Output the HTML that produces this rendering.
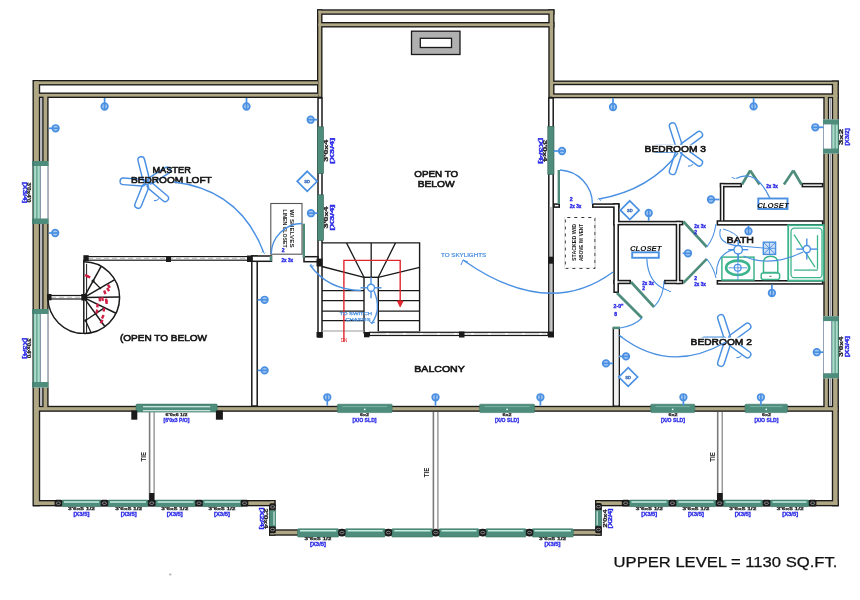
<!DOCTYPE html>
<html><head><meta charset="utf-8"><style>
html,body{margin:0;padding:0;background:#fff;}
svg{display:block;filter:blur(0.3px);}
text{font-family:"Liberation Sans",sans-serif;}
</style></head><body>
<svg width="860" height="600" viewBox="0 0 860 600">
<rect width="860" height="600" fill="#fff"/>
<rect x="317.00" y="9.30" width="237.50" height="5.50" fill="#1a1a1a"/>
<rect x="317.00" y="22.00" width="237.50" height="5.50" fill="#1a1a1a"/>
<rect x="317.00" y="9.30" width="5.50" height="88.70" fill="#1a1a1a"/>
<rect x="548.30" y="9.30" width="6.20" height="88.70" fill="#1a1a1a"/>
<rect x="33.00" y="80.00" width="286.30" height="5.50" fill="#1a1a1a"/>
<rect x="33.00" y="92.50" width="286.30" height="5.50" fill="#1a1a1a"/>
<rect x="32.50" y="80.00" width="7.70" height="426.30" fill="#1a1a1a"/>
<rect x="42.20" y="94.50" width="6.40" height="314.50" fill="#1a1a1a"/>
<rect x="551.00" y="80.50" width="287.70" height="4.70" fill="#1a1a1a"/>
<rect x="551.00" y="93.30" width="287.70" height="5.00" fill="#1a1a1a"/>
<rect x="831.80" y="80.50" width="7.10" height="425.80" fill="#1a1a1a"/>
<rect x="823.30" y="95.30" width="5.90" height="313.70" fill="#1a1a1a"/>
<rect x="33.00" y="405.80" width="805.70" height="6.00" fill="#1a1a1a"/>
<rect x="33.00" y="500.00" width="242.50" height="6.30" fill="#1a1a1a"/>
<rect x="269.00" y="500.00" width="6.50" height="35.70" fill="#1a1a1a"/>
<rect x="269.00" y="529.30" width="332.70" height="6.40" fill="#1a1a1a"/>
<rect x="595.20" y="500.00" width="6.50" height="35.70" fill="#1a1a1a"/>
<rect x="595.20" y="500.00" width="243.50" height="6.30" fill="#1a1a1a"/>
<rect x="318.35" y="10.65" width="234.80" height="2.80" fill="#b0a784"/>
<rect x="318.35" y="23.35" width="234.80" height="2.80" fill="#b0a784"/>
<rect x="318.35" y="10.65" width="2.80" height="86.00" fill="#b0a784"/>
<rect x="549.65" y="10.65" width="3.50" height="86.00" fill="#b0a784"/>
<rect x="34.35" y="81.35" width="283.60" height="2.80" fill="#b0a784"/>
<rect x="34.35" y="93.85" width="283.60" height="2.80" fill="#b0a784"/>
<rect x="33.85" y="81.35" width="5.00" height="423.60" fill="#b0a784"/>
<rect x="43.55" y="95.85" width="3.70" height="311.80" fill="#b0a784"/>
<rect x="552.35" y="81.85" width="285.00" height="2.00" fill="#b0a784"/>
<rect x="552.35" y="94.65" width="285.00" height="2.30" fill="#b0a784"/>
<rect x="833.15" y="81.85" width="4.40" height="423.10" fill="#b0a784"/>
<rect x="824.65" y="96.65" width="3.20" height="311.00" fill="#b0a784"/>
<rect x="34.35" y="407.15" width="803.00" height="3.30" fill="#b0a784"/>
<rect x="34.35" y="501.35" width="239.80" height="3.60" fill="#b0a784"/>
<rect x="270.35" y="501.35" width="3.80" height="33.00" fill="#b0a784"/>
<rect x="270.35" y="530.65" width="330.00" height="3.70" fill="#b0a784"/>
<rect x="596.55" y="501.35" width="3.80" height="33.00" fill="#b0a784"/>
<rect x="596.55" y="501.35" width="240.80" height="3.60" fill="#b0a784"/>
<line x1="41.10" y1="98.00" x2="41.10" y2="405.60" stroke="#9c9ca4" stroke-width="1.2" />
<line x1="830.50" y1="98.00" x2="830.50" y2="405.60" stroke="#9c9ca4" stroke-width="1.2" />
<rect x="169.00" y="573.60" width="2.50" height="1.80" fill="#bbb"/>
<rect x="411.50" y="31.20" width="48.50" height="23.30" fill="#b0b0b0" stroke="#1a1a1a" stroke-width="1.3"/>
<rect x="420.30" y="38.30" width="31.20" height="9.20" fill="#fff" stroke="#1a1a1a" stroke-width="1.3"/>
<rect x="318.00" y="98.00" width="4.00" height="239.00" fill="#fff" stroke="#1a1a1a" stroke-width="1.5"/>
<rect x="548.80" y="98.00" width="4.40" height="238.00" fill="#fff" stroke="#1a1a1a" stroke-width="1.5"/>
<rect x="549.90" y="207.00" width="2.20" height="126.00" fill="#c8c8c8"/>
<line x1="549.90" y1="207.00" x2="549.90" y2="333.00" stroke="#888" stroke-width="0.6" />
<rect x="86.00" y="256.60" width="164.00" height="3.60" fill="#fff" stroke="#1a1a1a" stroke-width="1.2"/>
<line x1="88.00" y1="258.40" x2="248.00" y2="258.40" stroke="#aaa" stroke-width="0.8" stroke-dasharray="5 3"/>
<rect x="251.80" y="256.00" width="5.40" height="150.00" fill="#fff" stroke="#1a1a1a" stroke-width="1.5"/>
<rect x="252.00" y="256.00" width="19.50" height="5.30" fill="#fff" stroke="#1a1a1a" stroke-width="1.5"/>
<rect x="304.00" y="256.70" width="14.00" height="5.00" fill="#fff" stroke="#1a1a1a" stroke-width="1.5"/>
<rect x="48.80" y="295.50" width="34.20" height="3.50" fill="#fff" stroke="#1a1a1a" stroke-width="1.2"/>
<line x1="51.00" y1="297.25" x2="81.00" y2="297.25" stroke="#aaa" stroke-width="0.8" stroke-dasharray="5 3"/>
<rect x="317.50" y="126.80" width="6.00" height="46.80" fill="#4e8c7c" stroke="#2e5e52" stroke-width="0.6"/>
<rect x="317.50" y="194.80" width="6.00" height="45.70" fill="#4e8c7c" stroke="#2e5e52" stroke-width="0.6"/>
<rect x="547.80" y="126.30" width="6.20" height="48.20" fill="#4e8c7c" stroke="#2e5e52" stroke-width="0.6"/>
<rect x="33.00" y="161.00" width="15.50" height="63.00" fill="#fff"/>
<rect x="33.60" y="165.50" width="6.70" height="54.00" fill="#a9dcc8" stroke="#4e8c7c" stroke-width="1.0"/>
<line x1="36.90" y1="165.50" x2="36.90" y2="219.50" stroke="#4e8c7c" stroke-width="1.0" />
<rect x="40.50" y="165.50" width="7.30" height="54.00" fill="#fff" stroke="#7a8aa0" stroke-width="0.8"/>
<rect x="32.00" y="161.00" width="16.50" height="5.00" fill="#4e8c7c"/>
<rect x="32.00" y="218.50" width="16.50" height="5.50" fill="#4e8c7c"/>
<line x1="33.30" y1="161.00" x2="33.30" y2="224.00" stroke="#3d6f62" stroke-width="0.8" />
<rect x="33.00" y="309.00" width="15.50" height="78.50" fill="#fff"/>
<rect x="33.60" y="313.50" width="6.70" height="69.50" fill="#a9dcc8" stroke="#4e8c7c" stroke-width="1.0"/>
<line x1="36.90" y1="313.50" x2="36.90" y2="383.00" stroke="#4e8c7c" stroke-width="1.0" />
<rect x="40.50" y="313.50" width="7.30" height="69.50" fill="#fff" stroke="#7a8aa0" stroke-width="0.8"/>
<rect x="32.00" y="309.00" width="16.50" height="5.00" fill="#4e8c7c"/>
<rect x="32.00" y="382.00" width="16.50" height="5.50" fill="#4e8c7c"/>
<line x1="33.30" y1="309.00" x2="33.30" y2="387.50" stroke="#3d6f62" stroke-width="0.8" />
<rect x="823.00" y="119.40" width="15.70" height="34.20" fill="#fff"/>
<rect x="831.80" y="123.90" width="6.60" height="25.20" fill="#a9dcc8" stroke="#4e8c7c" stroke-width="1.0"/>
<line x1="835.10" y1="123.90" x2="835.10" y2="149.10" stroke="#4e8c7c" stroke-width="1.0" />
<rect x="823.50" y="123.90" width="8.00" height="25.20" fill="#fff" stroke="#7a8aa0" stroke-width="0.8"/>
<rect x="823.00" y="119.40" width="15.70" height="4.80" fill="#4e8c7c"/>
<rect x="823.00" y="148.80" width="15.70" height="4.80" fill="#4e8c7c"/>
<line x1="838.40" y1="119.40" x2="838.40" y2="153.60" stroke="#3d6f62" stroke-width="0.8" />
<rect x="823.00" y="316.20" width="15.70" height="62.10" fill="#fff"/>
<rect x="831.80" y="320.70" width="6.60" height="53.10" fill="#a9dcc8" stroke="#4e8c7c" stroke-width="1.0"/>
<line x1="835.10" y1="320.70" x2="835.10" y2="373.80" stroke="#4e8c7c" stroke-width="1.0" />
<rect x="823.50" y="320.70" width="8.00" height="53.10" fill="#fff" stroke="#7a8aa0" stroke-width="0.8"/>
<rect x="823.00" y="316.20" width="15.70" height="4.80" fill="#4e8c7c"/>
<rect x="823.00" y="373.50" width="15.70" height="4.80" fill="#4e8c7c"/>
<line x1="838.40" y1="316.20" x2="838.40" y2="378.30" stroke="#3d6f62" stroke-width="0.8" />
<rect x="136.00" y="404.10" width="81.20" height="8.00" rx="1" fill="#4e8c7c" stroke="#3c7566" stroke-width="0.6"/>
<line x1="143.00" y1="406.70" x2="210.20" y2="406.70" stroke="#f0fffa" stroke-width="1.1" />
<line x1="143.00" y1="410.80" x2="210.20" y2="410.80" stroke="#f0fffa" stroke-width="1.1" />
<rect x="337.30" y="404.20" width="54.90" height="8.40" rx="1" fill="#4e8c7c" stroke="#3c7566" stroke-width="0.6"/>
<line x1="342.30" y1="406.60" x2="387.20" y2="406.60" stroke="#8fc4b4" stroke-width="0.7" />
<circle cx="364.75" cy="409.30" r="0.9" fill="#e8fff8"/>
<rect x="479.60" y="404.20" width="55.00" height="8.40" rx="1" fill="#4e8c7c" stroke="#3c7566" stroke-width="0.6"/>
<line x1="484.60" y1="406.60" x2="529.60" y2="406.60" stroke="#8fc4b4" stroke-width="0.7" />
<circle cx="507.10" cy="409.30" r="0.9" fill="#e8fff8"/>
<rect x="650.70" y="404.20" width="44.10" height="8.40" rx="1" fill="#4e8c7c" stroke="#3c7566" stroke-width="0.6"/>
<line x1="655.70" y1="406.60" x2="689.80" y2="406.60" stroke="#8fc4b4" stroke-width="0.7" />
<circle cx="672.75" cy="409.30" r="0.9" fill="#e8fff8"/>
<rect x="745.00" y="404.20" width="42.50" height="8.40" rx="1" fill="#4e8c7c" stroke="#3c7566" stroke-width="0.6"/>
<line x1="750.00" y1="406.60" x2="782.50" y2="406.60" stroke="#8fc4b4" stroke-width="0.7" />
<circle cx="766.25" cy="409.30" r="0.9" fill="#e8fff8"/>
<rect x="61.50" y="500.10" width="40.00" height="6.50" rx="1" fill="#4e8c7c" stroke="#3c7566" stroke-width="0.6"/>
<line x1="64.00" y1="502.00" x2="99.00" y2="502.00" stroke="#c6efe0" stroke-width="1.6" />
<rect x="107.50" y="500.10" width="41.00" height="6.50" rx="1" fill="#4e8c7c" stroke="#3c7566" stroke-width="0.6"/>
<line x1="110.00" y1="502.00" x2="146.00" y2="502.00" stroke="#c6efe0" stroke-width="1.6" />
<rect x="155.00" y="500.10" width="41.00" height="6.50" rx="1" fill="#4e8c7c" stroke="#3c7566" stroke-width="0.6"/>
<line x1="157.50" y1="502.00" x2="193.50" y2="502.00" stroke="#c6efe0" stroke-width="1.6" />
<rect x="202.00" y="500.10" width="41.00" height="6.50" rx="1" fill="#4e8c7c" stroke="#3c7566" stroke-width="0.6"/>
<line x1="204.50" y1="502.00" x2="240.50" y2="502.00" stroke="#c6efe0" stroke-width="1.6" />
<rect x="54.60" y="499.80" width="7.6" height="6.8" rx="1.5" fill="#1a1a1a"/>
<ellipse cx="58.4" cy="503.2" rx="2.1" ry="1.3" fill="none" stroke="#9a9a9a" stroke-width="0.8"/>
<rect x="100.60" y="499.80" width="7.6" height="6.8" rx="1.5" fill="#1a1a1a"/>
<ellipse cx="104.4" cy="503.2" rx="2.1" ry="1.3" fill="none" stroke="#9a9a9a" stroke-width="0.8"/>
<rect x="147.90" y="499.80" width="7.6" height="6.8" rx="1.5" fill="#1a1a1a"/>
<ellipse cx="151.7" cy="503.2" rx="2.1" ry="1.3" fill="none" stroke="#9a9a9a" stroke-width="0.8"/>
<rect x="195.20" y="499.80" width="7.6" height="6.8" rx="1.5" fill="#1a1a1a"/>
<ellipse cx="199" cy="503.2" rx="2.1" ry="1.3" fill="none" stroke="#9a9a9a" stroke-width="0.8"/>
<rect x="240.70" y="499.80" width="7.6" height="6.8" rx="1.5" fill="#1a1a1a"/>
<ellipse cx="244.5" cy="503.2" rx="2.1" ry="1.3" fill="none" stroke="#9a9a9a" stroke-width="0.8"/>
<rect x="269.40" y="503.30" width="6.4" height="7.2" rx="1.5" fill="#1a1a1a"/>
<ellipse cx="272.6" cy="506.9" rx="2.1" ry="1.3" fill="none" stroke="#9a9a9a" stroke-width="0.8"/>
<rect x="269.40" y="526.00" width="6.4" height="7.2" rx="1.5" fill="#1a1a1a"/>
<ellipse cx="272.6" cy="529.6" rx="2.1" ry="1.3" fill="none" stroke="#9a9a9a" stroke-width="0.8"/>
<rect x="269.30" y="510.40" width="6.70" height="15.90" fill="#4e8c7c"/>
<line x1="274.00" y1="511.50" x2="274.00" y2="525.20" stroke="#cfe9e0" stroke-width="1.2" />
<rect x="297.50" y="528.80" width="41.30" height="8.20" rx="1" fill="#4e8c7c" stroke="#3c7566" stroke-width="0.6"/>
<line x1="300.00" y1="530.70" x2="336.30" y2="530.70" stroke="#c6efe0" stroke-width="1.6" />
<rect x="345.20" y="528.80" width="40.00" height="8.20" rx="1" fill="#4e8c7c" stroke="#3c7566" stroke-width="0.6"/>
<line x1="347.70" y1="530.70" x2="382.70" y2="530.70" stroke="#c6efe0" stroke-width="1.6" />
<rect x="391.70" y="528.80" width="41.30" height="8.20" rx="1" fill="#4e8c7c" stroke="#3c7566" stroke-width="0.6"/>
<line x1="394.20" y1="530.70" x2="430.50" y2="530.70" stroke="#c6efe0" stroke-width="1.6" />
<rect x="439.00" y="528.80" width="40.00" height="8.20" rx="1" fill="#4e8c7c" stroke="#3c7566" stroke-width="0.6"/>
<line x1="441.50" y1="530.70" x2="476.50" y2="530.70" stroke="#c6efe0" stroke-width="1.6" />
<rect x="485.50" y="528.80" width="40.50" height="8.20" rx="1" fill="#4e8c7c" stroke="#3c7566" stroke-width="0.6"/>
<line x1="488.00" y1="530.70" x2="523.50" y2="530.70" stroke="#c6efe0" stroke-width="1.6" />
<rect x="532.00" y="528.80" width="41.30" height="8.20" rx="1" fill="#4e8c7c" stroke="#3c7566" stroke-width="0.6"/>
<line x1="534.50" y1="530.70" x2="570.80" y2="530.70" stroke="#c6efe0" stroke-width="1.6" />
<rect x="338.10" y="528.80" width="7.6" height="7.6" rx="3.6" fill="#1a1a1a"/>
<ellipse cx="341.9" cy="532.6" rx="2.1" ry="1.3" fill="none" stroke="#9a9a9a" stroke-width="0.8"/>
<rect x="384.60" y="528.80" width="7.6" height="7.6" rx="3.6" fill="#1a1a1a"/>
<ellipse cx="388.4" cy="532.6" rx="2.1" ry="1.3" fill="none" stroke="#9a9a9a" stroke-width="0.8"/>
<rect x="432.00" y="528.80" width="7.6" height="7.6" rx="3.6" fill="#1a1a1a"/>
<ellipse cx="435.8" cy="532.6" rx="2.1" ry="1.3" fill="none" stroke="#9a9a9a" stroke-width="0.8"/>
<rect x="479.00" y="528.80" width="7.6" height="7.6" rx="3.6" fill="#1a1a1a"/>
<ellipse cx="482.8" cy="532.6" rx="2.1" ry="1.3" fill="none" stroke="#9a9a9a" stroke-width="0.8"/>
<rect x="525.80" y="528.80" width="7.6" height="7.6" rx="3.6" fill="#1a1a1a"/>
<ellipse cx="529.6" cy="532.6" rx="2.1" ry="1.3" fill="none" stroke="#9a9a9a" stroke-width="0.8"/>
<rect x="595.30" y="503.10" width="6.4" height="7.2" rx="1.5" fill="#1a1a1a"/>
<ellipse cx="598.5" cy="506.7" rx="2.1" ry="1.3" fill="none" stroke="#9a9a9a" stroke-width="0.8"/>
<rect x="595.30" y="526.00" width="6.4" height="7.2" rx="1.5" fill="#1a1a1a"/>
<ellipse cx="598.5" cy="529.6" rx="2.1" ry="1.3" fill="none" stroke="#9a9a9a" stroke-width="0.8"/>
<rect x="595.20" y="510.20" width="6.60" height="15.90" fill="#4e8c7c"/>
<line x1="597.20" y1="511.30" x2="597.20" y2="525.00" stroke="#cfe9e0" stroke-width="1.2" />
<rect x="629.00" y="500.10" width="40.00" height="6.50" rx="1" fill="#4e8c7c" stroke="#3c7566" stroke-width="0.6"/>
<line x1="631.50" y1="502.00" x2="666.50" y2="502.00" stroke="#c6efe0" stroke-width="1.6" />
<rect x="676.00" y="500.10" width="40.00" height="6.50" rx="1" fill="#4e8c7c" stroke="#3c7566" stroke-width="0.6"/>
<line x1="678.50" y1="502.00" x2="713.50" y2="502.00" stroke="#c6efe0" stroke-width="1.6" />
<rect x="723.00" y="500.10" width="40.00" height="6.50" rx="1" fill="#4e8c7c" stroke="#3c7566" stroke-width="0.6"/>
<line x1="725.50" y1="502.00" x2="760.50" y2="502.00" stroke="#c6efe0" stroke-width="1.6" />
<rect x="770.00" y="500.10" width="39.00" height="6.50" rx="1" fill="#4e8c7c" stroke="#3c7566" stroke-width="0.6"/>
<line x1="772.50" y1="502.00" x2="806.50" y2="502.00" stroke="#c6efe0" stroke-width="1.6" />
<rect x="621.80" y="499.80" width="7.6" height="6.8" rx="1.5" fill="#1a1a1a"/>
<ellipse cx="625.6" cy="503.2" rx="2.1" ry="1.3" fill="none" stroke="#9a9a9a" stroke-width="0.8"/>
<rect x="668.70" y="499.80" width="7.6" height="6.8" rx="1.5" fill="#1a1a1a"/>
<ellipse cx="672.5" cy="503.2" rx="2.1" ry="1.3" fill="none" stroke="#9a9a9a" stroke-width="0.8"/>
<rect x="715.80" y="499.80" width="7.6" height="6.8" rx="1.5" fill="#1a1a1a"/>
<ellipse cx="719.6" cy="503.2" rx="2.1" ry="1.3" fill="none" stroke="#9a9a9a" stroke-width="0.8"/>
<rect x="762.70" y="499.80" width="7.6" height="6.8" rx="1.5" fill="#1a1a1a"/>
<ellipse cx="766.5" cy="503.2" rx="2.1" ry="1.3" fill="none" stroke="#9a9a9a" stroke-width="0.8"/>
<rect x="808.80" y="499.80" width="7.6" height="6.8" rx="1.5" fill="#1a1a1a"/>
<ellipse cx="812.6" cy="503.2" rx="2.1" ry="1.3" fill="none" stroke="#9a9a9a" stroke-width="0.8"/>
<rect x="131.30" y="410.50" width="6.00" height="9.20" fill="#1a1a1a"/>
<rect x="215.90" y="410.50" width="7.00" height="9.20" fill="#1a1a1a"/>
<line x1="149.60" y1="412.00" x2="149.60" y2="500.00" stroke="#7a7a7a" stroke-width="1.6" />
<line x1="154.10" y1="412.00" x2="154.10" y2="500.00" stroke="#8a8a8a" stroke-width="1.3" />
<line x1="433.40" y1="412.00" x2="433.40" y2="529.50" stroke="#7a7a7a" stroke-width="1.6" />
<line x1="437.90" y1="412.00" x2="437.90" y2="529.50" stroke="#8a8a8a" stroke-width="1.3" />
<line x1="717.70" y1="412.00" x2="717.70" y2="500.00" stroke="#7a7a7a" stroke-width="1.6" />
<line x1="722.20" y1="412.00" x2="722.20" y2="500.00" stroke="#8a8a8a" stroke-width="1.3" />
<rect x="149.20" y="493.00" width="5.10" height="7.00" fill="#1a1a1a"/>
<rect x="717.00" y="493.00" width="5.70" height="7.00" fill="#1a1a1a"/>
<rect x="553.20" y="203.30" width="6.80" height="4.60" fill="#1a1a1a"/>
<rect x="592.00" y="203.30" width="27.60" height="4.60" fill="#1a1a1a"/>
<rect x="613.30" y="203.30" width="6.30" height="22.10" fill="#1a1a1a"/>
<rect x="613.30" y="203.30" width="5.70" height="89.70" fill="#1a1a1a"/>
<rect x="612.60" y="327.60" width="7.40" height="78.60" fill="#1a1a1a"/>
<rect x="613.30" y="220.80" width="70.10" height="4.60" fill="#1a1a1a"/>
<rect x="675.70" y="220.80" width="4.70" height="63.40" fill="#1a1a1a"/>
<rect x="613.30" y="279.80" width="17.70" height="4.40" fill="#1a1a1a"/>
<rect x="664.00" y="279.80" width="19.40" height="4.40" fill="#1a1a1a"/>
<rect x="716.60" y="220.20" width="106.80" height="5.40" fill="#1a1a1a"/>
<rect x="716.60" y="280.00" width="106.80" height="4.70" fill="#1a1a1a"/>
<rect x="719.80" y="182.90" width="4.70" height="39.10" fill="#1a1a1a"/>
<rect x="719.80" y="182.90" width="22.20" height="4.50" fill="#1a1a1a"/>
<rect x="801.50" y="182.90" width="21.90" height="4.50" fill="#1a1a1a"/>
<rect x="554.75" y="204.85" width="3.70" height="1.50" fill="#fff"/>
<rect x="593.55" y="204.85" width="24.50" height="1.50" fill="#fff"/>
<rect x="614.85" y="204.85" width="3.20" height="19.00" fill="#fff"/>
<rect x="614.85" y="204.85" width="2.60" height="86.60" fill="#fff"/>
<rect x="614.15" y="329.15" width="4.30" height="75.50" fill="#fff"/>
<rect x="614.85" y="222.35" width="67.00" height="1.50" fill="#fff"/>
<rect x="677.25" y="222.35" width="1.60" height="60.30" fill="#fff"/>
<rect x="614.85" y="281.35" width="14.60" height="1.30" fill="#fff"/>
<rect x="665.55" y="281.35" width="16.30" height="1.30" fill="#fff"/>
<rect x="718.15" y="221.75" width="103.70" height="2.30" fill="#fff"/>
<rect x="718.15" y="281.55" width="103.70" height="1.60" fill="#fff"/>
<rect x="721.35" y="184.45" width="1.60" height="36.00" fill="#fff"/>
<rect x="721.35" y="184.45" width="19.10" height="1.40" fill="#fff"/>
<rect x="803.05" y="184.45" width="18.80" height="1.40" fill="#fff"/>
<rect x="612.60" y="326.60" width="7.40" height="2.60" fill="#4e8c7c"/>
<rect x="614.20" y="329.20" width="4.20" height="76.30" fill="#efefef"/>
<line x1="742.00" y1="184.50" x2="750.20" y2="170.50" stroke="#4e8c7c" stroke-width="2.6" stroke-linecap="butt"/>
<line x1="750.20" y1="170.50" x2="759.50" y2="184.50" stroke="#4e8c7c" stroke-width="2.6" stroke-linecap="butt"/>
<line x1="784.00" y1="184.50" x2="793.30" y2="170.50" stroke="#4e8c7c" stroke-width="2.6" stroke-linecap="butt"/>
<line x1="793.30" y1="170.50" x2="801.50" y2="184.50" stroke="#4e8c7c" stroke-width="2.6" stroke-linecap="butt"/>
<line x1="683.40" y1="221.50" x2="706.80" y2="247.00" stroke="#4e8c7c" stroke-width="2.6" stroke-linecap="butt"/>
<line x1="706.80" y1="258.80" x2="683.40" y2="282.80" stroke="#4e8c7c" stroke-width="2.6" stroke-linecap="butt"/>
<line x1="631.00" y1="282.00" x2="654.00" y2="307.00" stroke="#4e8c7c" stroke-width="2.6" stroke-linecap="butt"/>
<line x1="617.00" y1="293.00" x2="642.00" y2="318.00" stroke="#4e8c7c" stroke-width="2.6" stroke-linecap="butt"/>
<line x1="558.80" y1="170.00" x2="558.80" y2="204.00" stroke="#4e8c7c" stroke-width="2.4" stroke-linecap="butt"/>
<line x1="303.80" y1="223.70" x2="303.80" y2="257.50" stroke="#4e8c7c" stroke-width="2.4" stroke-linecap="butt"/>
<rect x="269.70" y="256.00" width="2.30" height="5.20" fill="#4e8c7c"/>
<path d="M706.8,247 Q714,238 716,224" stroke="#4a90e2" stroke-width="1.1" fill="none" />
<path d="M706.8,259 Q714,268 716,278" stroke="#4a90e2" stroke-width="1.1" fill="none" />
<path d="M654,307 Q664,296 664,281" stroke="#4a90e2" stroke-width="1.1" fill="none" />
<path d="M642,318 Q634,326 620,328" stroke="#4a90e2" stroke-width="1.1" fill="none" />
<rect x="632.20" y="252.30" width="26.60" height="5.50" fill="#fff" stroke="#4a90e2" stroke-width="1.9"/>
<text x="630" y="250.5" font-size="6.6" fill="#111" text-anchor="start" font-weight="bold" textLength="31.5" lengthAdjust="spacingAndGlyphs" font-style="italic">CLOSET</text>
<rect x="758.30" y="198.50" width="29.20" height="10.50" fill="#fff" stroke="#4a90e2" stroke-width="1.9"/>
<text x="757.2" y="208.3" font-size="6.6" fill="#111" text-anchor="start" font-weight="bold" textLength="31.5" lengthAdjust="spacingAndGlyphs" font-style="italic">CLOSET</text>
<rect x="565.30" y="217.50" width="29.60" height="50.90" fill="#fff" stroke="#333" stroke-width="1.0"/>
<rect x="565.3" y="217.5" width="29.6" height="50.9" fill="none" stroke="#fff" stroke-width="1.4" stroke-dasharray="4 3" stroke-dashoffset="2"/>
<text x="575.5" y="242.5" font-size="5" fill="#1a1a1a" text-anchor="middle" font-weight="bold" textLength="37" lengthAdjust="spacingAndGlyphs" transform="rotate(-90 575.5 242.5)" >STACKED W/D</text>
<text x="583" y="242.5" font-size="5" fill="#1a1a1a" text-anchor="middle" font-weight="bold" textLength="37" lengthAdjust="spacingAndGlyphs" transform="rotate(-90 583 242.5)" >ABOVE W/ VENT</text>
<rect x="270.80" y="203.50" width="31.20" height="50.70" fill="none" stroke="#555" stroke-width="1.1"/>
<text x="282.5" y="228.6" font-size="5" fill="#222" text-anchor="middle" font-weight="bold" textLength="38" lengthAdjust="spacingAndGlyphs" transform="rotate(90 282.5 228.6)" >LINEN CLOSET</text>
<text x="290" y="228.6" font-size="5" fill="#222" text-anchor="middle" font-weight="bold" textLength="38" lengthAdjust="spacingAndGlyphs" transform="rotate(90 290 228.6)" >W/ SHELVES</text>
<rect x="788.20" y="225.20" width="35.50" height="55.40" fill="#fff" stroke="#3cb48c" stroke-width="1.8"/>
<rect x="791" y="228.2" width="31" height="49.5" rx="3.5" fill="none" stroke="#3cb48c" stroke-width="1.3"/>
<line x1="794.00" y1="234.60" x2="815.00" y2="267.20" stroke="#3cb48c" stroke-width="1.3" />
<line x1="794.00" y1="270.10" x2="817.90" y2="270.10" stroke="#3cb48c" stroke-width="1.3" />
<line x1="817.50" y1="235.20" x2="817.50" y2="269.00" stroke="#3cb48c" stroke-width="1.3" />
<rect x="721.90" y="257.10" width="32.10" height="22.90" fill="#fff" stroke="#3cb48c" stroke-width="1.5"/>
<ellipse cx="737.7" cy="267.8" rx="11.6" ry="7.2" fill="none" stroke="#3cb48c" stroke-width="2.6"/>
<circle cx="737.7" cy="267.8" r="3.4" fill="none" stroke="#4a90e2" stroke-width="1.2"/>
<line x1="728.50" y1="267.80" x2="747.00" y2="267.80" stroke="#4a90e2" stroke-width="0.9" />
<line x1="737.90" y1="253.50" x2="737.90" y2="280.00" stroke="#4a90e2" stroke-width="0.9" />
<path d="M763.5,272.5 L763.5,263 Q763.5,256.2 770.6,256.2 Q777.8,256.2 777.8,263 L777.8,272.5 Z" fill="#fff" stroke="#3cb48c" stroke-width="1.5"/>
<rect x="761.2" y="273" width="18.4" height="6.5" rx="2" fill="#fff" stroke="#3cb48c" stroke-width="1.5"/>
<line x1="769.50" y1="276.30" x2="771.50" y2="276.30" stroke="#333" stroke-width="0.8" />
<rect x="763.30" y="242.20" width="12.30" height="12.20" fill="#cfe0f6" stroke="#4a90e2" stroke-width="1.4"/>
<line x1="763.30" y1="242.20" x2="775.60" y2="254.40" stroke="#4a90e2" stroke-width="1.0" />
<line x1="775.60" y1="242.20" x2="763.30" y2="254.40" stroke="#4a90e2" stroke-width="1.0" />
<line x1="769.45" y1="242.20" x2="769.45" y2="254.40" stroke="#4a90e2" stroke-width="0.9" />
<line x1="763.30" y1="248.30" x2="775.60" y2="248.30" stroke="#4a90e2" stroke-width="0.9" />
<path d="M720.5,229 Q716,244 740,246 Q752,247 763.3,248" stroke="#4a90e2" stroke-width="1.1" fill="none" />
<path d="M723,229 Q735,232 742,241" stroke="#4a90e2" stroke-width="1.0" fill="none" />
<path d="M716.5,274.5 Q716,254 734,249.5" stroke="#4a90e2" stroke-width="1.1" fill="none" />
<path d="M743.5,256 Q770,268 803,252" stroke="#4a90e2" stroke-width="1.1" fill="none" />
<path d="M83.8,261.8 A35.8,35.8 0 0 1 83.8,333.40000000000003" stroke="#1a1a1a" stroke-width="1.5" fill="none" />
<path d="M83.8,333.40000000000003 A35.8,35.8 0 0 1 48.0,297.6" stroke="#1a1a1a" stroke-width="1.4" fill="none" />
<line x1="83.80" y1="259.80" x2="83.80" y2="333.90" stroke="#1a1a1a" stroke-width="1.5" />
<line x1="86.60" y1="263.80" x2="86.60" y2="332.90" stroke="#1a1a1a" stroke-width="1.0" />
<line x1="83.80" y1="297.60" x2="101.16" y2="266.29" stroke="#1a1a1a" stroke-width="1.5" />
<line x1="83.80" y1="297.60" x2="114.80" y2="279.70" stroke="#1a1a1a" stroke-width="1.5" />
<line x1="83.80" y1="297.60" x2="119.59" y2="296.98" stroke="#1a1a1a" stroke-width="1.5" />
<line x1="83.80" y1="297.60" x2="115.98" y2="313.29" stroke="#1a1a1a" stroke-width="1.5" />
<line x1="83.80" y1="297.60" x2="104.84" y2="326.56" stroke="#1a1a1a" stroke-width="1.5" />
<line x1="85.50" y1="320.50" x2="105.00" y2="307.40" stroke="#1a1a1a" stroke-width="1.3" />
<line x1="85.50" y1="320.50" x2="91.30" y2="333.30" stroke="#1a1a1a" stroke-width="1.3" />
<line x1="93.10" y1="281.00" x2="101.00" y2="289.00" stroke="#1a1a1a" stroke-width="1.2" />
<circle cx="93.1" cy="281" r="1.6" fill="#1a1a1a"/>
<circle cx="85.5" cy="320.5" r="1.2" fill="#1a1a1a"/>
<rect x="81.30" y="294.00" width="5.20" height="6.50" fill="#1a1a1a"/>
<rect x="47.00" y="294.00" width="4.50" height="6.30" fill="#1a1a1a"/>
<rect x="83.40" y="255.20" width="5.30" height="6.00" fill="#1a1a1a"/>
<g transform="translate(86.8 275.8) rotate(20)"><rect x="-1.9" y="-1.2" width="3.8" height="2.4" fill="#cf1f45"/></g>
<g transform="translate(88.5 276.8) rotate(20)"><rect x="-1.9" y="-1.2" width="3.8" height="2.4" fill="#cf1f45"/></g>
<g transform="translate(108.9 286.3) rotate(60)"><rect x="-1.9" y="-1.2" width="3.8" height="2.4" fill="#cf1f45"/></g>
<g transform="translate(108.1 289.6) rotate(60)"><rect x="-1.9" y="-1.2" width="3.8" height="2.4" fill="#cf1f45"/></g>
<g transform="translate(104.8 292.3) rotate(70)"><rect x="-1.9" y="-1.2" width="3.8" height="2.4" fill="#cf1f45"/></g>
<g transform="translate(102.5 299) rotate(80)"><rect x="-1.9" y="-1.2" width="3.8" height="2.4" fill="#cf1f45"/></g>
<g transform="translate(106.3 300.5) rotate(80)"><rect x="-1.9" y="-1.2" width="3.8" height="2.4" fill="#cf1f45"/></g>
<g transform="translate(99.8 299.5) rotate(85)"><rect x="-1.9" y="-1.2" width="3.8" height="2.4" fill="#cf1f45"/></g>
<g transform="translate(106.5 302.1) rotate(85)"><rect x="-1.9" y="-1.2" width="3.8" height="2.4" fill="#cf1f45"/></g>
<g transform="translate(97.5 305.5) rotate(95)"><rect x="-1.9" y="-1.2" width="3.8" height="2.4" fill="#cf1f45"/></g>
<g transform="translate(103.9 309.6) rotate(100)"><rect x="-1.9" y="-1.2" width="3.8" height="2.4" fill="#cf1f45"/></g>
<g transform="translate(96.8 311.5) rotate(105)"><rect x="-1.9" y="-1.2" width="3.8" height="2.4" fill="#cf1f45"/></g>
<g transform="translate(102.8 316.8) rotate(115)"><rect x="-1.9" y="-1.2" width="3.8" height="2.4" fill="#cf1f45"/></g>
<g transform="translate(101.6 321.6) rotate(120)"><rect x="-1.9" y="-1.2" width="3.8" height="2.4" fill="#cf1f45"/></g>
<rect x="166.00" y="256.00" width="5.00" height="6.00" fill="#1a1a1a"/>
<rect x="247.00" y="255.50" width="5.50" height="6.50" fill="#1a1a1a"/>
<path d="M322,242.9 L419.6,242.9 L419.6,331.5" stroke="#1a1a1a" stroke-width="1.4" fill="none" />
<line x1="364.00" y1="277.30" x2="364.00" y2="333.50" stroke="#1a1a1a" stroke-width="1.4" />
<line x1="378.30" y1="277.30" x2="378.30" y2="331.50" stroke="#1a1a1a" stroke-width="1.4" />
<line x1="364.00" y1="277.30" x2="378.30" y2="277.30" stroke="#1a1a1a" stroke-width="1.4" />
<line x1="371.20" y1="242.90" x2="371.20" y2="277.30" stroke="#1a1a1a" stroke-width="1.3" />
<line x1="364.00" y1="277.30" x2="322.00" y2="266.50" stroke="#1a1a1a" stroke-width="1.3" />
<line x1="364.00" y1="277.30" x2="346.50" y2="242.90" stroke="#1a1a1a" stroke-width="1.3" />
<line x1="378.30" y1="277.30" x2="395.50" y2="242.90" stroke="#1a1a1a" stroke-width="1.3" />
<line x1="378.30" y1="277.30" x2="419.60" y2="267.40" stroke="#1a1a1a" stroke-width="1.3" />
<line x1="322.00" y1="290.60" x2="364.00" y2="290.60" stroke="#1a1a1a" stroke-width="1.3" />
<line x1="378.30" y1="290.60" x2="419.60" y2="290.60" stroke="#1a1a1a" stroke-width="1.3" />
<line x1="322.00" y1="300.60" x2="364.00" y2="300.60" stroke="#1a1a1a" stroke-width="1.3" />
<line x1="378.30" y1="300.60" x2="419.60" y2="300.60" stroke="#1a1a1a" stroke-width="1.3" />
<line x1="322.00" y1="311.10" x2="364.00" y2="311.10" stroke="#1a1a1a" stroke-width="1.3" />
<line x1="378.30" y1="311.10" x2="419.60" y2="311.10" stroke="#1a1a1a" stroke-width="1.3" />
<line x1="322.00" y1="320.70" x2="364.00" y2="320.70" stroke="#1a1a1a" stroke-width="1.3" />
<line x1="378.30" y1="320.70" x2="419.60" y2="320.70" stroke="#1a1a1a" stroke-width="1.3" />
<line x1="322.00" y1="331.00" x2="364.00" y2="331.00" stroke="#999" stroke-width="1.2" />
<line x1="378.30" y1="331.50" x2="419.60" y2="331.50" stroke="#999" stroke-width="1.0" />
<path d="M343.9,342 L343.9,260.4 L400.2,260.4 L400.2,303" stroke="#e0252f" stroke-width="1.4" fill="none" />
<path d="M397.3,301 L400.2,307 L403.1,301 Z" stroke="#e0252f" stroke-width="0.8" fill="#e0252f" />
<text x="343.9" y="341.5" font-size="4.5" fill="#e0252f" text-anchor="middle" font-weight="normal" >DN</text>
<rect x="369.50" y="332.30" width="178.50" height="3.20" fill="#fff" stroke="#1a1a1a" stroke-width="1.2"/>
<line x1="372.00" y1="333.90" x2="546.00" y2="333.90" stroke="#bbb" stroke-width="0.8" stroke-dasharray="14 3"/>
<rect x="316.50" y="258.60" width="6.00" height="7.90" fill="#1a1a1a"/>
<rect x="316.50" y="332.00" width="6.00" height="5.30" fill="#1a1a1a"/>
<rect x="364.00" y="332.00" width="5.50" height="5.30" fill="#1a1a1a"/>
<rect x="459.00" y="331.50" width="5.50" height="6.00" fill="#1a1a1a"/>
<rect x="548.00" y="331.50" width="6.00" height="6.00" fill="#1a1a1a"/>
<rect x="548.00" y="256.70" width="5.50" height="7.00" fill="#1a1a1a"/>
<g transform="translate(147 183) rotate(184)"><rect x="1.5" y="-3.3" width="25.5" height="6.6" rx="3.3" fill="none" stroke="#4a90e2" stroke-width="1.45"/></g>
<g transform="translate(147 183) rotate(256)"><rect x="1.5" y="-3.3" width="25.5" height="6.6" rx="3.3" fill="none" stroke="#4a90e2" stroke-width="1.45"/></g>
<g transform="translate(147 183) rotate(328)"><rect x="1.5" y="-3.3" width="25.5" height="6.6" rx="3.3" fill="none" stroke="#4a90e2" stroke-width="1.45"/></g>
<g transform="translate(147 183) rotate(400)"><rect x="1.5" y="-3.3" width="25.5" height="6.6" rx="3.3" fill="none" stroke="#4a90e2" stroke-width="1.45"/></g>
<g transform="translate(147 183) rotate(472)"><rect x="1.5" y="-3.3" width="25.5" height="6.6" rx="3.3" fill="none" stroke="#4a90e2" stroke-width="1.45"/></g>
<g transform="translate(680 148.7) rotate(180)"><rect x="1.5" y="-3.3" width="25.5" height="6.6" rx="3.3" fill="none" stroke="#4a90e2" stroke-width="1.45"/></g>
<g transform="translate(680 148.7) rotate(252)"><rect x="1.5" y="-3.3" width="25.5" height="6.6" rx="3.3" fill="none" stroke="#4a90e2" stroke-width="1.45"/></g>
<g transform="translate(680 148.7) rotate(324)"><rect x="1.5" y="-3.3" width="25.5" height="6.6" rx="3.3" fill="none" stroke="#4a90e2" stroke-width="1.45"/></g>
<g transform="translate(680 148.7) rotate(396)"><rect x="1.5" y="-3.3" width="25.5" height="6.6" rx="3.3" fill="none" stroke="#4a90e2" stroke-width="1.45"/></g>
<g transform="translate(680 148.7) rotate(468)"><rect x="1.5" y="-3.3" width="25.5" height="6.6" rx="3.3" fill="none" stroke="#4a90e2" stroke-width="1.45"/></g>
<g transform="translate(728.3 340.5) rotate(180)"><rect x="1.5" y="-3.3" width="25.5" height="6.6" rx="3.3" fill="none" stroke="#4a90e2" stroke-width="1.45"/></g>
<g transform="translate(728.3 340.5) rotate(252)"><rect x="1.5" y="-3.3" width="25.5" height="6.6" rx="3.3" fill="none" stroke="#4a90e2" stroke-width="1.45"/></g>
<g transform="translate(728.3 340.5) rotate(324)"><rect x="1.5" y="-3.3" width="25.5" height="6.6" rx="3.3" fill="none" stroke="#4a90e2" stroke-width="1.45"/></g>
<g transform="translate(728.3 340.5) rotate(396)"><rect x="1.5" y="-3.3" width="25.5" height="6.6" rx="3.3" fill="none" stroke="#4a90e2" stroke-width="1.45"/></g>
<g transform="translate(728.3 340.5) rotate(468)"><rect x="1.5" y="-3.3" width="25.5" height="6.6" rx="3.3" fill="none" stroke="#4a90e2" stroke-width="1.45"/></g>
<path d="M154,200.5 Q157,201 159,198.5" stroke="#4a90e2" stroke-width="1.1" fill="none" />
<path d="M688,166 Q691,166.5 693,164" stroke="#4a90e2" stroke-width="1.1" fill="none" />
<path d="M736.5,357.5 Q739.5,358 741.5,355.5" stroke="#4a90e2" stroke-width="1.1" fill="none" />
<text x="152.4" y="172.6" font-size="9.2" fill="#151515" text-anchor="start" font-weight="normal" textLength="38.4" lengthAdjust="spacingAndGlyphs" stroke="#151515" stroke-width="0.6">MASTER</text>
<text x="131" y="182.8" font-size="9.2" fill="#151515" text-anchor="start" font-weight="normal" textLength="80.8" lengthAdjust="spacingAndGlyphs" stroke="#151515" stroke-width="0.6">BEDROOM LOFT</text>
<rect x="119.70" y="334.18" width="87.60" height="7.12" fill="#fff"/>
<text x="120" y="341.2" font-size="9.2" fill="#151515" text-anchor="start" font-weight="normal" textLength="87" lengthAdjust="spacingAndGlyphs" stroke="#151515" stroke-width="0.6">(OPEN TO BELOW</text>
<rect x="414.00" y="169.98" width="44.50" height="7.12" fill="#fff"/>
<text x="414.3" y="177" font-size="9.2" fill="#151515" text-anchor="start" font-weight="normal" textLength="43.9" lengthAdjust="spacingAndGlyphs" stroke="#151515" stroke-width="0.6">OPEN TO</text>
<rect x="417.40" y="179.58" width="37.50" height="7.12" fill="#fff"/>
<text x="417.7" y="186.6" font-size="9.2" fill="#151515" text-anchor="start" font-weight="normal" textLength="36.9" lengthAdjust="spacingAndGlyphs" stroke="#151515" stroke-width="0.6">BELOW</text>
<rect x="414.00" y="365.18" width="51.10" height="7.12" fill="#fff"/>
<text x="414.3" y="372.2" font-size="9.2" fill="#151515" text-anchor="start" font-weight="normal" textLength="50.5" lengthAdjust="spacingAndGlyphs" stroke="#151515" stroke-width="0.6">BALCONY</text>
<rect x="644.30" y="144.78" width="62.00" height="7.12" fill="#fff"/>
<text x="644.6" y="151.8" font-size="9.2" fill="#151515" text-anchor="start" font-weight="normal" textLength="61.4" lengthAdjust="spacingAndGlyphs" stroke="#151515" stroke-width="0.6">BEDROOM 3</text>
<rect x="690.30" y="337.58" width="61.90" height="7.12" fill="#fff"/>
<text x="690.6" y="344.6" font-size="9.2" fill="#151515" text-anchor="start" font-weight="normal" textLength="61.3" lengthAdjust="spacingAndGlyphs" stroke="#151515" stroke-width="0.6">BEDROOM 2</text>
<rect x="726.30" y="236.28" width="28.00" height="7.12" fill="#fff"/>
<text x="726.6" y="243.3" font-size="9.2" fill="#151515" text-anchor="start" font-weight="normal" textLength="27.4" lengthAdjust="spacingAndGlyphs" stroke="#151515" stroke-width="0.6">BATH</text>
<text x="613.6" y="567.2" font-size="14.6" fill="#111" text-anchor="start" font-weight="normal" textLength="223.7" lengthAdjust="spacingAndGlyphs" stroke="#111" stroke-width="0.25">UPPER LEVEL = 1130 SQ.FT.</text>
<circle cx="104.6" cy="106.5" r="3.3" fill="#a9c9f2" stroke="#4a90e2" stroke-width="1.7"/>
<line x1="104.60" y1="98.00" x2="104.60" y2="109.50" stroke="#4a90e2" stroke-width="1.7" />
<circle cx="246.5" cy="106.5" r="3.3" fill="#a9c9f2" stroke="#4a90e2" stroke-width="1.7"/>
<line x1="246.50" y1="98.00" x2="246.50" y2="109.50" stroke="#4a90e2" stroke-width="1.7" />
<circle cx="55.6" cy="128.3" r="3.3" fill="#a9c9f2" stroke="#4a90e2" stroke-width="1.7"/>
<line x1="48.80" y1="128.30" x2="58.60" y2="128.30" stroke="#4a90e2" stroke-width="1.7" />
<circle cx="55.2" cy="233" r="3.3" fill="#a9c9f2" stroke="#4a90e2" stroke-width="1.7"/>
<line x1="48.80" y1="233.00" x2="58.20" y2="233.00" stroke="#4a90e2" stroke-width="1.7" />
<circle cx="310.7" cy="119.7" r="3.3" fill="#a9c9f2" stroke="#4a90e2" stroke-width="1.7"/>
<line x1="317.50" y1="119.70" x2="307.70" y2="119.70" stroke="#4a90e2" stroke-width="1.7" />
<circle cx="311" cy="213.2" r="3.3" fill="#a9c9f2" stroke="#4a90e2" stroke-width="1.7"/>
<line x1="317.50" y1="213.20" x2="308.00" y2="213.20" stroke="#4a90e2" stroke-width="1.7" />
<circle cx="264.6" cy="299.8" r="3.3" fill="#a9c9f2" stroke="#4a90e2" stroke-width="1.7"/>
<line x1="257.50" y1="299.80" x2="267.60" y2="299.80" stroke="#4a90e2" stroke-width="1.7" />
<circle cx="264.6" cy="370.4" r="3.3" fill="#a9c9f2" stroke="#4a90e2" stroke-width="1.7"/>
<line x1="257.50" y1="370.40" x2="267.60" y2="370.40" stroke="#4a90e2" stroke-width="1.7" />
<circle cx="327.3" cy="397.3" r="3.3" fill="#a9c9f2" stroke="#4a90e2" stroke-width="1.7"/>
<line x1="327.30" y1="405.50" x2="327.30" y2="394.30" stroke="#4a90e2" stroke-width="1.7" />
<circle cx="435.5" cy="397.3" r="3.3" fill="#a9c9f2" stroke="#4a90e2" stroke-width="1.7"/>
<line x1="435.50" y1="405.50" x2="435.50" y2="394.30" stroke="#4a90e2" stroke-width="1.7" />
<circle cx="540.4" cy="397.3" r="3.3" fill="#a9c9f2" stroke="#4a90e2" stroke-width="1.7"/>
<line x1="540.40" y1="405.50" x2="540.40" y2="394.30" stroke="#4a90e2" stroke-width="1.7" />
<circle cx="683.4" cy="397.3" r="3.3" fill="#a9c9f2" stroke="#4a90e2" stroke-width="1.7"/>
<line x1="683.40" y1="405.50" x2="683.40" y2="394.30" stroke="#4a90e2" stroke-width="1.7" />
<circle cx="760.9" cy="397.3" r="3.3" fill="#a9c9f2" stroke="#4a90e2" stroke-width="1.7"/>
<line x1="760.90" y1="405.50" x2="760.90" y2="394.30" stroke="#4a90e2" stroke-width="1.7" />
<circle cx="613" cy="107" r="3.3" fill="#a9c9f2" stroke="#4a90e2" stroke-width="1.7"/>
<line x1="613.00" y1="98.30" x2="613.00" y2="110.00" stroke="#4a90e2" stroke-width="1.7" />
<circle cx="753.6" cy="106.4" r="3.3" fill="#a9c9f2" stroke="#4a90e2" stroke-width="1.7"/>
<line x1="753.60" y1="98.30" x2="753.60" y2="109.40" stroke="#4a90e2" stroke-width="1.7" />
<circle cx="562" cy="151" r="3.3" fill="#a9c9f2" stroke="#4a90e2" stroke-width="1.7"/>
<line x1="553.50" y1="151.00" x2="565.00" y2="151.00" stroke="#4a90e2" stroke-width="1.7" />
<circle cx="815.3" cy="127.3" r="3.3" fill="#a9c9f2" stroke="#4a90e2" stroke-width="1.7"/>
<line x1="823.30" y1="127.30" x2="812.30" y2="127.30" stroke="#4a90e2" stroke-width="1.7" />
<circle cx="648.7" cy="213" r="3.3" fill="#a9c9f2" stroke="#4a90e2" stroke-width="1.7"/>
<line x1="648.70" y1="220.80" x2="648.70" y2="210.00" stroke="#4a90e2" stroke-width="1.7" />
<circle cx="688" cy="253.3" r="3.3" fill="#a9c9f2" stroke="#4a90e2" stroke-width="1.7"/>
<line x1="682.60" y1="253.30" x2="691.00" y2="253.30" stroke="#4a90e2" stroke-width="1.7" />
<circle cx="711" cy="199.5" r="3.3" fill="#a9c9f2" stroke="#4a90e2" stroke-width="1.7"/>
<line x1="719.50" y1="199.50" x2="708.00" y2="199.50" stroke="#4a90e2" stroke-width="1.7" />
<circle cx="748.5" cy="231.2" r="3.3" fill="#a9c9f2" stroke="#4a90e2" stroke-width="1.7"/>
<line x1="748.50" y1="225.30" x2="748.50" y2="234.20" stroke="#4a90e2" stroke-width="1.7" />
<circle cx="771.9" cy="293" r="3.3" fill="#a9c9f2" stroke="#4a90e2" stroke-width="1.7"/>
<line x1="771.90" y1="284.80" x2="771.90" y2="296.00" stroke="#4a90e2" stroke-width="1.7" />
<circle cx="816.8" cy="352.2" r="3.3" fill="#a9c9f2" stroke="#4a90e2" stroke-width="1.7"/>
<line x1="823.30" y1="352.20" x2="813.80" y2="352.20" stroke="#4a90e2" stroke-width="1.7" />
<circle cx="626" cy="356.4" r="3.3" fill="#a9c9f2" stroke="#4a90e2" stroke-width="1.7"/>
<line x1="619.00" y1="356.40" x2="629.00" y2="356.40" stroke="#4a90e2" stroke-width="1.7" />
<circle cx="606" cy="363.4" r="3.3" fill="#a9c9f2" stroke="#4a90e2" stroke-width="1.7"/>
<line x1="613.00" y1="363.40" x2="603.00" y2="363.40" stroke="#4a90e2" stroke-width="1.7" />
<path d="M307.2,171.3 L317.2,181.3 L307.2,191.3 L297.2,181.3 Z" stroke="#4a90e2" stroke-width="1.7" fill="#fff" />
<text x="307.2" y="182.8" font-size="4.2" fill="#3a6fc0" text-anchor="middle" font-weight="bold" stroke="#3a6fc0" stroke-width="0.3">SD</text>
<path d="M629.8,200.79999999999998 L639.1999999999999,210.2 L629.8,219.6 L620.4,210.2 Z" stroke="#4a90e2" stroke-width="1.7" fill="#fff" />
<text x="629.8" y="211.7" font-size="4.2" fill="#3a6fc0" text-anchor="middle" font-weight="bold" stroke="#3a6fc0" stroke-width="0.3">SD</text>
<path d="M628.2,367.6 L637.6,377 L628.2,386.4 L618.8000000000001,377 Z" stroke="#4a90e2" stroke-width="1.7" fill="#fff" />
<text x="628.2" y="378.5" font-size="4.2" fill="#3a6fc0" text-anchor="middle" font-weight="bold" stroke="#3a6fc0" stroke-width="0.3">SD</text>
<circle cx="371" cy="287.8" r="3.5" fill="#fff" stroke="#4a90e2" stroke-width="1.4"/>
<line x1="374.50" y1="287.80" x2="381.50" y2="287.80" stroke="#4a90e2" stroke-width="1.4" />
<line x1="371.00" y1="291.30" x2="371.00" y2="298.30" stroke="#4a90e2" stroke-width="1.4" />
<line x1="367.50" y1="287.80" x2="360.50" y2="287.80" stroke="#4a90e2" stroke-width="1.4" />
<line x1="371.00" y1="284.30" x2="371.00" y2="277.30" stroke="#4a90e2" stroke-width="1.4" />
<circle cx="738.2" cy="249.7" r="4.2" fill="#fff" stroke="#4a90e2" stroke-width="1.4"/>
<line x1="742.40" y1="249.70" x2="748.20" y2="249.70" stroke="#4a90e2" stroke-width="1.4" />
<line x1="738.20" y1="253.90" x2="738.20" y2="259.70" stroke="#4a90e2" stroke-width="1.4" />
<line x1="734.00" y1="249.70" x2="728.20" y2="249.70" stroke="#4a90e2" stroke-width="1.4" />
<line x1="738.20" y1="245.50" x2="738.20" y2="239.70" stroke="#4a90e2" stroke-width="1.4" />
<circle cx="806.8" cy="249.1" r="3.6" fill="#fff" stroke="#4a90e2" stroke-width="1.4"/>
<line x1="810.40" y1="249.10" x2="817.30" y2="249.10" stroke="#4a90e2" stroke-width="1.4" />
<line x1="806.80" y1="252.70" x2="806.80" y2="259.60" stroke="#4a90e2" stroke-width="1.4" />
<line x1="803.20" y1="249.10" x2="796.30" y2="249.10" stroke="#4a90e2" stroke-width="1.4" />
<line x1="806.80" y1="245.50" x2="806.80" y2="238.60" stroke="#4a90e2" stroke-width="1.4" />
<path d="M174,182 Q240,190 263.5,252" stroke="#4a90e2" stroke-width="1.4" fill="none" />
<path d="M271.2,254 A31,31 0 0 1 302,223.5" stroke="#4a90e2" stroke-width="1.4" fill="none" />
<path d="M599,199 Q650,190 678,153" stroke="#4a90e2" stroke-width="1.4" fill="none" />
<path d="M560,170 A34,34 0 0 1 592.4,204" stroke="#4a90e2" stroke-width="1.4" fill="none" />
<path d="M620,336 Q670,374.5 726,342" stroke="#4a90e2" stroke-width="1.4" fill="none" />
<path d="M310,265 Q328,290 361,290.5" stroke="#4a90e2" stroke-width="1.3" fill="none" />
<path d="M374,291 Q382,310 371.5,323.5" stroke="#4a90e2" stroke-width="1.3" fill="none" />
<path d="M369,320.5 L371.5,323.5 L375,322" stroke="#4a90e2" stroke-width="1.0" fill="none" />
<path d="M463,260 Q548,320 613,272" stroke="#4a90e2" stroke-width="1.4" fill="none" />
<path d="M461,265 L463,260 L468,262" stroke="#4a90e2" stroke-width="1.0" fill="none" />
<path d="M261.7,252.5 q0.9,-2 1.8,0 q0.9,2 1.8,0" stroke="#4a90e2" stroke-width="1.0" fill="none" />
<path d="M597.7,199.5 q0.9,-2 1.8,0 q0.9,2 1.8,0" stroke="#4a90e2" stroke-width="1.0" fill="none" />
<path d="M618.7,336 q0.9,-2 1.8,0 q0.9,2 1.8,0" stroke="#4a90e2" stroke-width="1.0" fill="none" />
<path d="M310.2,265.5 q0.9,-2 1.8,0 q0.9,2 1.8,0" stroke="#4a90e2" stroke-width="1.0" fill="none" />
<path d="M667.2,291 q0.9,-2 1.8,0 q0.9,2 1.8,0" stroke="#4a90e2" stroke-width="1.0" fill="none" />
<path d="M731.7,178 q0.9,-2 1.8,0 q0.9,2 1.8,0" stroke="#4a90e2" stroke-width="1.0" fill="none" />
<path d="M646.8,258.8 Q648,284 667,290" stroke="#4a90e2" stroke-width="1.2" fill="none" />
<path d="M736,178.5 Q756,168 770,198.5" stroke="#4a90e2" stroke-width="1.2" fill="none" />
<text x="81.4" y="510.3" font-size="4.199999999999999" fill="#222" text-anchor="middle" font-weight="bold" textLength="27" lengthAdjust="spacingAndGlyphs" stroke="#222" stroke-width="0.25">3'6x5 1/2</text>
<text x="81.4" y="516.3" font-size="5.199999999999999" fill="#2b2be8" text-anchor="middle" font-weight="bold" textLength="16" lengthAdjust="spacingAndGlyphs" stroke="#2b2be8" stroke-width="0.3">[X3/5]</text>
<text x="128.7" y="510.3" font-size="4.199999999999999" fill="#222" text-anchor="middle" font-weight="bold" textLength="27" lengthAdjust="spacingAndGlyphs" stroke="#222" stroke-width="0.25">3'6x5 1/2</text>
<text x="128.7" y="516.3" font-size="5.199999999999999" fill="#2b2be8" text-anchor="middle" font-weight="bold" textLength="16" lengthAdjust="spacingAndGlyphs" stroke="#2b2be8" stroke-width="0.3">[X3/5]</text>
<text x="174.8" y="510.3" font-size="4.199999999999999" fill="#222" text-anchor="middle" font-weight="bold" textLength="27" lengthAdjust="spacingAndGlyphs" stroke="#222" stroke-width="0.25">3'6x5 1/2</text>
<text x="174.8" y="516.3" font-size="5.199999999999999" fill="#2b2be8" text-anchor="middle" font-weight="bold" textLength="16" lengthAdjust="spacingAndGlyphs" stroke="#2b2be8" stroke-width="0.3">[X3/5]</text>
<text x="222" y="510.3" font-size="4.199999999999999" fill="#222" text-anchor="middle" font-weight="bold" textLength="27" lengthAdjust="spacingAndGlyphs" stroke="#222" stroke-width="0.25">3'6x5 1/2</text>
<text x="222" y="516.3" font-size="5.199999999999999" fill="#2b2be8" text-anchor="middle" font-weight="bold" textLength="16" lengthAdjust="spacingAndGlyphs" stroke="#2b2be8" stroke-width="0.3">[X3/5]</text>
<text x="649.3" y="510.3" font-size="4.199999999999999" fill="#222" text-anchor="middle" font-weight="bold" textLength="27" lengthAdjust="spacingAndGlyphs" stroke="#222" stroke-width="0.25">3'6x5 1/2</text>
<text x="649.3" y="516.3" font-size="5.199999999999999" fill="#2b2be8" text-anchor="middle" font-weight="bold" textLength="16" lengthAdjust="spacingAndGlyphs" stroke="#2b2be8" stroke-width="0.3">[X3/5]</text>
<text x="695.9" y="510.3" font-size="4.199999999999999" fill="#222" text-anchor="middle" font-weight="bold" textLength="27" lengthAdjust="spacingAndGlyphs" stroke="#222" stroke-width="0.25">3'6x5 1/2</text>
<text x="695.9" y="516.3" font-size="5.199999999999999" fill="#2b2be8" text-anchor="middle" font-weight="bold" textLength="16" lengthAdjust="spacingAndGlyphs" stroke="#2b2be8" stroke-width="0.3">[X3/5]</text>
<text x="742.8" y="510.3" font-size="4.199999999999999" fill="#222" text-anchor="middle" font-weight="bold" textLength="27" lengthAdjust="spacingAndGlyphs" stroke="#222" stroke-width="0.25">3'6x5 1/2</text>
<text x="742.8" y="516.3" font-size="5.199999999999999" fill="#2b2be8" text-anchor="middle" font-weight="bold" textLength="16" lengthAdjust="spacingAndGlyphs" stroke="#2b2be8" stroke-width="0.3">[X3/5]</text>
<text x="790.2" y="510.3" font-size="4.199999999999999" fill="#222" text-anchor="middle" font-weight="bold" textLength="27" lengthAdjust="spacingAndGlyphs" stroke="#222" stroke-width="0.25">3'6x5 1/2</text>
<text x="790.2" y="516.3" font-size="5.199999999999999" fill="#2b2be8" text-anchor="middle" font-weight="bold" textLength="16" lengthAdjust="spacingAndGlyphs" stroke="#2b2be8" stroke-width="0.3">[X3/5]</text>
<text x="318" y="539.8" font-size="4.199999999999999" fill="#222" text-anchor="middle" font-weight="bold" textLength="27" lengthAdjust="spacingAndGlyphs" stroke="#222" stroke-width="0.25">3'6x5 1/2</text>
<text x="318" y="545.8" font-size="5.199999999999999" fill="#2b2be8" text-anchor="middle" font-weight="bold" textLength="16" lengthAdjust="spacingAndGlyphs" stroke="#2b2be8" stroke-width="0.3">[X3/5]</text>
<text x="552.6" y="539.8" font-size="4.199999999999999" fill="#222" text-anchor="middle" font-weight="bold" textLength="27" lengthAdjust="spacingAndGlyphs" stroke="#222" stroke-width="0.25">3'6x5 1/2</text>
<text x="552.6" y="545.8" font-size="5.199999999999999" fill="#2b2be8" text-anchor="middle" font-weight="bold" textLength="16" lengthAdjust="spacingAndGlyphs" stroke="#2b2be8" stroke-width="0.3">[X3/5]</text>
<text x="176.5" y="415.6" font-size="4.199999999999999" fill="#222" text-anchor="middle" font-weight="bold" textLength="22" lengthAdjust="spacingAndGlyphs" stroke="#222" stroke-width="0.25">6'0x6 1/2</text>
<text x="176.5" y="421.6" font-size="5.199999999999999" fill="#2b2be8" text-anchor="middle" font-weight="bold" textLength="26" lengthAdjust="spacingAndGlyphs" stroke="#2b2be8" stroke-width="0.3">[6'0x3 P/O]</text>
<text x="364.6" y="416" font-size="4.199999999999999" fill="#222" text-anchor="middle" font-weight="bold" textLength="9" lengthAdjust="spacingAndGlyphs" stroke="#222" stroke-width="0.25">6x2</text>
<text x="364.6" y="422" font-size="5.199999999999999" fill="#2b2be8" text-anchor="middle" font-weight="bold" textLength="24" lengthAdjust="spacingAndGlyphs" stroke="#2b2be8" stroke-width="0.3">[X/O SLD]</text>
<text x="507" y="416" font-size="4.199999999999999" fill="#222" text-anchor="middle" font-weight="bold" textLength="9" lengthAdjust="spacingAndGlyphs" stroke="#222" stroke-width="0.25">6x2</text>
<text x="507" y="422" font-size="5.199999999999999" fill="#2b2be8" text-anchor="middle" font-weight="bold" textLength="24" lengthAdjust="spacingAndGlyphs" stroke="#2b2be8" stroke-width="0.3">[X/O SLD]</text>
<text x="673" y="416" font-size="4.199999999999999" fill="#222" text-anchor="middle" font-weight="bold" textLength="9" lengthAdjust="spacingAndGlyphs" stroke="#222" stroke-width="0.25">6x2</text>
<text x="673" y="422" font-size="5.199999999999999" fill="#2b2be8" text-anchor="middle" font-weight="bold" textLength="24" lengthAdjust="spacingAndGlyphs" stroke="#2b2be8" stroke-width="0.3">[X/O SLD]</text>
<text x="766.5" y="416" font-size="4.199999999999999" fill="#222" text-anchor="middle" font-weight="bold" textLength="9" lengthAdjust="spacingAndGlyphs" stroke="#222" stroke-width="0.25">6x2</text>
<text x="766.5" y="422" font-size="5.199999999999999" fill="#2b2be8" text-anchor="middle" font-weight="bold" textLength="24" lengthAdjust="spacingAndGlyphs" stroke="#2b2be8" stroke-width="0.3">[X/O SLD]</text>
<text x="27.4" y="192.5" font-size="4.6" fill="#222" text-anchor="middle" font-weight="bold" textLength="20" lengthAdjust="spacingAndGlyphs" transform="rotate(90 27.4 192.5)" stroke="#222" stroke-width="0.25">3'0x4'0</text>
<text x="22.6" y="192.5" font-size="5.3999999999999995" fill="#2b2be8" text-anchor="middle" font-weight="bold" textLength="21" lengthAdjust="spacingAndGlyphs" transform="rotate(90 22.6 192.5)" stroke="#2b2be8" stroke-width="0.35">[X3/4]</text>
<text x="27.4" y="348.2" font-size="4.6" fill="#222" text-anchor="middle" font-weight="bold" textLength="20" lengthAdjust="spacingAndGlyphs" transform="rotate(90 27.4 348.2)" stroke="#222" stroke-width="0.25">3'0x4'0</text>
<text x="22.6" y="348.2" font-size="5.3999999999999995" fill="#2b2be8" text-anchor="middle" font-weight="bold" textLength="21" lengthAdjust="spacingAndGlyphs" transform="rotate(90 22.6 348.2)" stroke="#2b2be8" stroke-width="0.35">[X3/4]</text>
<text x="842.6" y="137" font-size="4.6" fill="#222" text-anchor="middle" font-weight="bold" textLength="16" lengthAdjust="spacingAndGlyphs" transform="rotate(-90 842.6 137)" stroke="#222" stroke-width="0.25">3x2</text>
<text x="849.2" y="137" font-size="5.3999999999999995" fill="#2b2be8" text-anchor="middle" font-weight="bold" textLength="17" lengthAdjust="spacingAndGlyphs" transform="rotate(-90 849.2 137)" stroke="#2b2be8" stroke-width="0.35">[X3/2]</text>
<text x="842.8" y="346.7" font-size="4.6" fill="#222" text-anchor="middle" font-weight="bold" textLength="20" lengthAdjust="spacingAndGlyphs" transform="rotate(-90 842.8 346.7)" stroke="#222" stroke-width="0.25">3'0x4</text>
<text x="849.2" y="346.7" font-size="5.3999999999999995" fill="#2b2be8" text-anchor="middle" font-weight="bold" textLength="21" lengthAdjust="spacingAndGlyphs" transform="rotate(-90 849.2 346.7)" stroke="#2b2be8" stroke-width="0.35">[X3/4]</text>
<text x="327.8" y="150.7" font-size="4.6" fill="#222" text-anchor="middle" font-weight="bold" textLength="22" lengthAdjust="spacingAndGlyphs" transform="rotate(-90 327.8 150.7)" stroke="#222" stroke-width="0.25">3'0x4</text>
<text x="334" y="150.7" font-size="5.3999999999999995" fill="#2b2be8" text-anchor="middle" font-weight="bold" textLength="26" lengthAdjust="spacingAndGlyphs" transform="rotate(-90 334 150.7)" stroke="#2b2be8" stroke-width="0.35">[X3/4]</text>
<text x="327.8" y="217.5" font-size="4.6" fill="#222" text-anchor="middle" font-weight="bold" textLength="22" lengthAdjust="spacingAndGlyphs" transform="rotate(-90 327.8 217.5)" stroke="#222" stroke-width="0.25">3'0x4</text>
<text x="334" y="217.5" font-size="5.3999999999999995" fill="#2b2be8" text-anchor="middle" font-weight="bold" textLength="26" lengthAdjust="spacingAndGlyphs" transform="rotate(-90 334 217.5)" stroke="#2b2be8" stroke-width="0.35">[X3/4]</text>
<text x="543.4" y="150.7" font-size="4.6" fill="#222" text-anchor="middle" font-weight="bold" textLength="22" lengthAdjust="spacingAndGlyphs" transform="rotate(90 543.4 150.7)" stroke="#222" stroke-width="0.25">3'0x4</text>
<text x="538.8" y="150.7" font-size="5.3999999999999995" fill="#2b2be8" text-anchor="middle" font-weight="bold" textLength="26" lengthAdjust="spacingAndGlyphs" transform="rotate(90 538.8 150.7)" stroke="#2b2be8" stroke-width="0.35">[X3/4]</text>
<text x="263.9" y="518.5" font-size="4.6" fill="#222" text-anchor="middle" font-weight="bold" textLength="20" lengthAdjust="spacingAndGlyphs" transform="rotate(90 263.9 518.5)" stroke="#222" stroke-width="0.25">2'0x4</text>
<text x="260.2" y="518.5" font-size="5.3999999999999995" fill="#2b2be8" text-anchor="middle" font-weight="bold" textLength="22" lengthAdjust="spacingAndGlyphs" transform="rotate(90 260.2 518.5)" stroke="#2b2be8" stroke-width="0.35">[X2/4]</text>
<text x="606.6" y="518.5" font-size="4.6" fill="#222" text-anchor="middle" font-weight="bold" textLength="18" lengthAdjust="spacingAndGlyphs" transform="rotate(-90 606.6 518.5)" stroke="#222" stroke-width="0.25">2'0x4</text>
<text x="611.6" y="518.5" font-size="5.3999999999999995" fill="#2b2be8" text-anchor="middle" font-weight="bold" textLength="20" lengthAdjust="spacingAndGlyphs" transform="rotate(-90 611.6 518.5)" stroke="#2b2be8" stroke-width="0.35">[X2/4]</text>
<text x="281.8" y="251.6" font-size="5" fill="#2b2be8" text-anchor="start" font-weight="bold" stroke="#2b2be8" stroke-width="0.35">2</text>
<text x="281.5" y="261.6" font-size="4.6" fill="#2b2be8" text-anchor="start" font-weight="bold" stroke="#2b2be8" stroke-width="0.35">2x 3x</text>
<text x="569.8" y="201" font-size="5.2" fill="#2b2be8" text-anchor="start" font-weight="bold" stroke="#2b2be8" stroke-width="0.35">2</text>
<text x="569.8" y="208" font-size="4.6" fill="#2b2be8" text-anchor="start" font-weight="bold" stroke="#2b2be8" stroke-width="0.35">2x 3x</text>
<text x="642.3" y="284.6" font-size="4.6" fill="#2b2be8" text-anchor="start" font-weight="bold" stroke="#2b2be8" stroke-width="0.35">2x 3x</text>
<text x="642.3" y="290.4" font-size="5" fill="#2b2be8" text-anchor="start" font-weight="bold" stroke="#2b2be8" stroke-width="0.35">2</text>
<text x="694.3" y="228.2" font-size="4.6" fill="#2b2be8" text-anchor="start" font-weight="bold" stroke="#2b2be8" stroke-width="0.35">2x 3x</text>
<text x="694.3" y="234" font-size="5" fill="#2b2be8" text-anchor="start" font-weight="bold" stroke="#2b2be8" stroke-width="0.35">2</text>
<text x="694.3" y="280.4" font-size="5" fill="#2b2be8" text-anchor="start" font-weight="bold" stroke="#2b2be8" stroke-width="0.35">2</text>
<text x="694.3" y="286" font-size="4.6" fill="#2b2be8" text-anchor="start" font-weight="bold" stroke="#2b2be8" stroke-width="0.35">2x 3x</text>
<text x="613.6" y="308.2" font-size="5.2" fill="#2b2be8" text-anchor="start" font-weight="bold" stroke="#2b2be8" stroke-width="0.35">2-0"</text>
<text x="614.2" y="315.5" font-size="5" fill="#2b2be8" text-anchor="start" font-weight="bold" stroke="#2b2be8" stroke-width="0.35">8</text>
<text x="766.3" y="187.6" font-size="4.6" fill="#2b2be8" text-anchor="start" font-weight="bold" stroke="#2b2be8" stroke-width="0.35">2x 3x</text>
<text x="355.8" y="315.4" font-size="4.4" fill="#4a90e2" text-anchor="middle" font-weight="normal" textLength="32.5" lengthAdjust="spacingAndGlyphs" stroke="#4a90e2" stroke-width="0.25">TO SWITCH</text>
<text x="358" y="321.4" font-size="4.4" fill="#4a90e2" text-anchor="middle" font-weight="normal" textLength="25" lengthAdjust="spacingAndGlyphs" stroke="#4a90e2" stroke-width="0.25">CHASSIS</text>
<text x="463.6" y="257.4" font-size="4.8" fill="#4a90e2" text-anchor="middle" font-weight="normal" textLength="45" lengthAdjust="spacingAndGlyphs" stroke="#4a90e2" stroke-width="0.2">TO SKYLIGHTS</text>
<text x="145.6" y="456.8" font-size="6.8" fill="#1a1a1a" text-anchor="middle" font-weight="bold" textLength="9.6" lengthAdjust="spacingAndGlyphs" transform="rotate(-90 145.6 456.8)" >TIE</text>
<text x="429.2" y="472.5" font-size="6.8" fill="#1a1a1a" text-anchor="middle" font-weight="bold" textLength="9.6" lengthAdjust="spacingAndGlyphs" transform="rotate(-90 429.2 472.5)" >TIE</text>
<text x="714.9" y="456.9" font-size="6.8" fill="#1a1a1a" text-anchor="middle" font-weight="bold" textLength="9.6" lengthAdjust="spacingAndGlyphs" transform="rotate(-90 714.9 456.9)" >TIE</text>
</svg></body></html>
